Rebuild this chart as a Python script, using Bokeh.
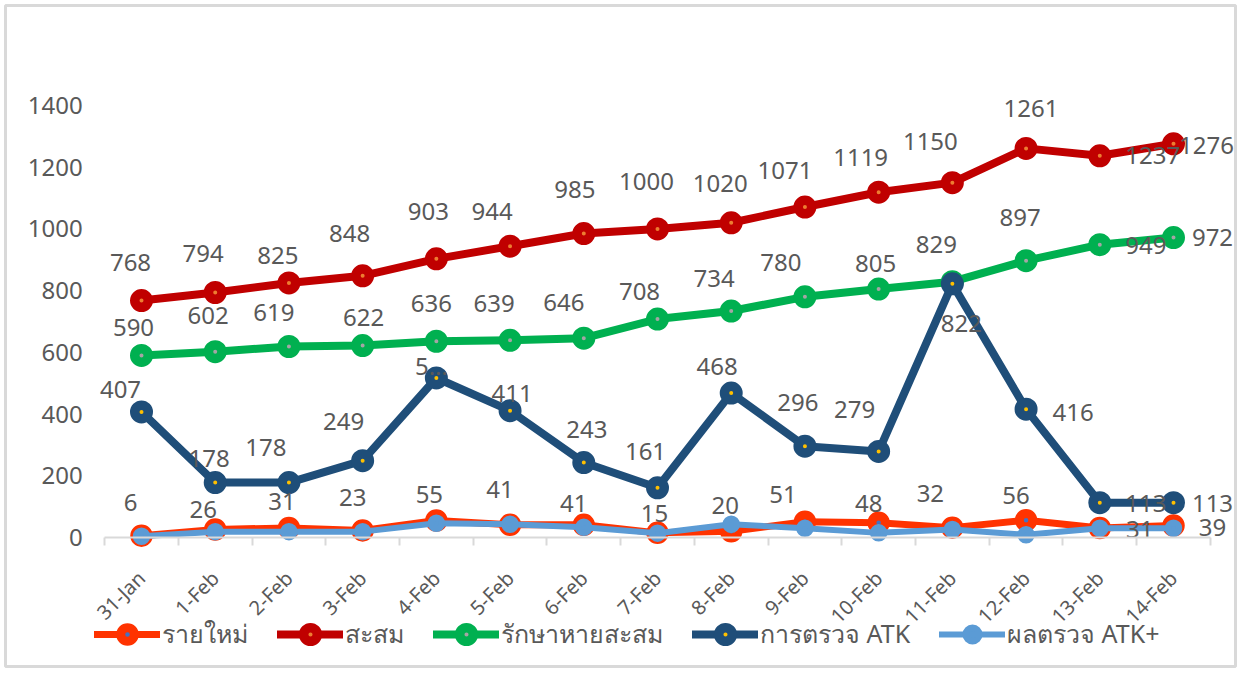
import math
from bokeh.plotting import figure
from bokeh.models import (ColumnDataSource, LinearAxis, FixedTicker, Range1d,
                          Legend, LegendItem)
from bokeh.core.properties import value
from bokeh.embed import file_html
from bokeh.resources import INLINE

# ---------------- data ----------------
dates = ["31-Jan", "1-Feb", "2-Feb", "3-Feb", "4-Feb", "5-Feb", "6-Feb", "7-Feb",
         "8-Feb", "9-Feb", "10-Feb", "11-Feb", "12-Feb", "13-Feb", "14-Feb"]
new_cases = [6, 26, 31, 23, 55, 41, 41, 15, 20, 51, 48, 32, 56, 31, 39]
cumulative = [768, 794, 825, 848, 903, 944, 985, 1000, 1020, 1071, 1119, 1150, 1261, 1237, 1276]
recovered = [590, 602, 619, 622, 636, 639, 646, 708, 734, 780, 805, 829, 897, 949, 972]
atk_tests = [407, 178, 178, 249, 517, 411, 243, 161, 468, 296, 279, 822, 416, 113, 113]
atk_positive = [4, 19, 19, 19, 46, 43, 33, 14, 43, 30, 15, 26, 9, 30, 30]
y_ticks = [0, 200, 400, 600, 800, 1000, 1200, 1400]

series_names = ["รายใหม่", "สะสม", "รักษาหายสะสม", "การตรวจ ATK", "ผลตรวจ ATK+"]

# ---------------- label placement (screen px offsets) ----------------
off_new = [(-11, -33), (-12, -20), (-7, -26), (-10, -33), (-7, -26), (-10, -35), (-10, -21),
           (-3, -19), (-6, -26), (-22, -27), (-10, -19), (-22, -34), (-10, -25), (40, 2), (39, 2)]
off_cum = [(-11, -38), (-12, -39), (-11, -27), (-13, -42), (-8, -47), (-18, -35), (-9, -44),
           (-11, -47), (-11, -39), (-20, -37), (-18, -35), (-22, -41), (5, -40), (53, 0), (33, 2)]
off_rec = [(-8, -28), (-7, -36), (-15, -34), (1, -28), (-5, -38), (-16, -37), (-20, -36),
           (-18, -28), (-17, -33), (-24, -34), (-3, -26), (-16, -37), (-6, -43), (46, 1), (39, 0)]
off_atk = [(-21, -22), (-6, -24), (-23, -35), (-19, -39), (-5, -12), (2, -17), (3, -33),
           (-12, -36), (-14, -27), (-7, -44), (-24, -42), (9, 40), (47, 3), (46, 1), (39, 1)]

# ---------------- figure geometry ----------------
W, H = 1237, 668
FL, FT, FR, FB = 5, 5, 2, 2          # borders around the frame
cat0_px = 141      # pixel x of first category
catN_px = 1173     # pixel x of last category
px_per_cat = (catN_px - cat0_px) / (len(dates) - 1)
zero_px = 537      # pixel y of value 0
px_per_unit = 0.308571

x_start = (FL - cat0_px) / px_per_cat
x_end = ((W - FR) - cat0_px) / px_per_cat
y_end = (zero_px - FT) / px_per_unit
y_start = (zero_px - (H - FB)) / px_per_unit

p = figure(width=W, height=H, output_backend="svg", toolbar_location=None,
           x_axis_type=None, y_axis_type=None,
           x_range=Range1d(x_start, x_end), y_range=Range1d(y_start, y_end),
           min_border_left=FL, min_border_right=FR,
           min_border_top=FT, min_border_bottom=FB)
p.background_fill_color = "white"
p.border_fill_color = "white"
p.outline_line_color = "#d9d9d9"
p.outline_line_width = 3
p.xgrid.visible = False
p.ygrid.visible = False

FONT = "Noto Sans"
TXT = "#595959"

# y axis (no line, no ticks)
yaxis = LinearAxis(fixed_location=-0.5, ticker=FixedTicker(ticks=y_ticks))
yaxis.axis_line_color = None
yaxis.major_tick_line_color = None
yaxis.minor_tick_line_color = None
yaxis.major_tick_out = 0
yaxis.major_tick_in = 0
yaxis.major_label_standoff = 22
yaxis.major_label_text_font = FONT
yaxis.major_label_text_font_size = "24px"
yaxis.major_label_text_color = TXT
p.add_layout(yaxis, "left")

# x axis at y=0, tick marks between categories
xidx = list(range(len(dates)))
xaxis = LinearAxis(fixed_location=0, bounds=(-0.5, len(dates) - 0.5),
                   ticker=FixedTicker(ticks=xidx,
                                      minor_ticks=[i - 0.5 for i in range(len(dates) + 1)]))
xaxis.major_label_overrides = {i: d for i, d in enumerate(dates)}
xaxis.axis_line_color = "#d9d9d9"
xaxis.axis_line_width = 2
xaxis.major_tick_line_color = None
xaxis.major_tick_out = 0
xaxis.major_tick_in = 0
xaxis.minor_tick_line_color = "#d9d9d9"
xaxis.minor_tick_line_width = 2
xaxis.minor_tick_out = 8
xaxis.minor_tick_in = 0
xaxis.major_label_orientation = math.pi / 4
xaxis.major_label_standoff = 29
xaxis.major_label_text_font = FONT
xaxis.major_label_text_font_size = "20px"
xaxis.major_label_text_color = TXT
p.add_layout(xaxis, "below")

# ---------------- series ----------------
specs = [
    # values, color, inner dot, line width, marker size, marker outline width
    (new_cases, "#FF3300", "#4472C4", 7, 13.5, 9),
    (cumulative, "#C00000", "#ED7D31", 8, 13.5, 9.5),
    (recovered, "#00B050", "#A5A5A5", 8, 13.5, 9.5),
    (atk_tests, "#1F4E79", "#FFC000", 8, 13.5, 9.5),
    (atk_positive, "#5B9BD5", "#5B9BD5", 6, 11, 6.5),
]

items = []
for (vals, col, inner, lw, ms, mlw), name in zip(specs, series_names):
    src = ColumnDataSource(dict(x=xidx, y=vals))
    r_line = p.line("x", "y", source=src, line_color=col, line_width=lw,
                    line_join="round", line_cap="round")
    r_mark = p.scatter("x", "y", source=src, marker="circle", size=ms,
                       fill_color=inner, line_color=col, line_width=mlw)
    items.append(LegendItem(label=name, renderers=[r_line, r_mark]))

# ---------------- data labels ----------------
label_sets = [
    (new_cases, off_new, [str(v) for v in new_cases]),
    (cumulative, off_cum, [str(v) for v in cumulative]),
    (recovered, off_rec, [str(v) for v in recovered]),
    (atk_tests, off_atk, [str(v) for v in atk_tests]),
]
# the 4-Feb ATK label is shown truncated in the original
label_sets[3][2][4] = "5…"

for vals, offs, texts in label_sets:
    src = ColumnDataSource(dict(x=xidx, y=vals, t=texts,
                                dx=[o[0] for o in offs], dy=[o[1] for o in offs]))
    p.text("x", "y", text="t", source=src, x_offset="dx", y_offset="dy",
           text_align="center", text_baseline="middle",
           text_font=value(FONT), text_font_size="24px", text_color=TXT)

# ---------------- legend ----------------
legend = Legend(items=items, orientation="horizontal", location=(89, 12))
legend.glyph_width = 66
legend.glyph_height = 34
legend.label_standoff = 2
legend.spacing = 29
legend.padding = 0
legend.margin = 0
legend.label_text_font = FONT
legend.label_text_font_size = "25px"
legend.label_text_color = TXT
legend.border_line_color = None
legend.background_fill_alpha = 0
p.add_layout(legend, "center")

open("out.html", "w").write(file_html(p, INLINE))
